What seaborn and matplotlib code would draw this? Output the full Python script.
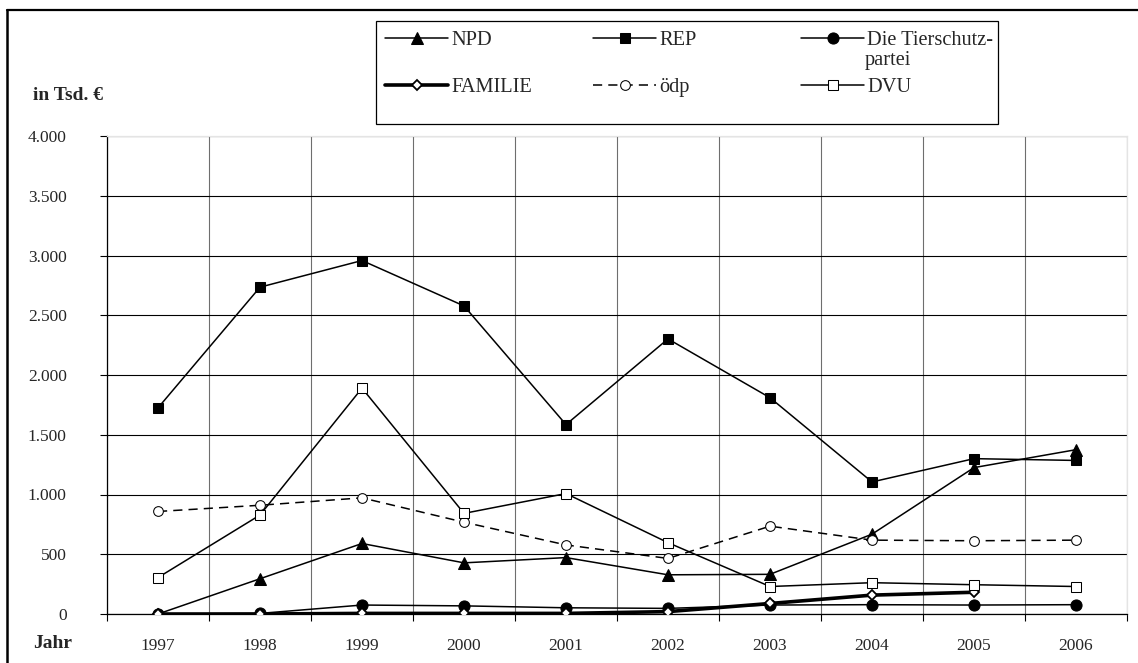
import numpy as np
import pandas as pd
import matplotlib
matplotlib.use("Agg")
import matplotlib.pyplot as plt
import seaborn as sns
from matplotlib.lines import Line2D
from matplotlib.patches import Rectangle
from matplotlib.ticker import FuncFormatter, MultipleLocator, FixedLocator

# Data (in Tsd. EUR)
years = [1997, 1998, 1999, 2000, 2001, 2002, 2003, 2004, 2005, 2006]
npd = [0, 295, 590, 428, 472, 328, 332, 668, 1225, 1375]
rep = [1725, 2735, 2958, 2578, 1585, 2302, 1810, 1105, 1300, 1285]
tierschutz = [0, 5, 75, 68, 52, 47, 75, 78, 75, 78]
familie = [0, 0, 5, 5, 5, 20, 88, 158, 182, np.nan]
oedp = [858, 910, 972, 768, 578, 465, 735, 618, 613, 618]
dvu = [305, 828, 1890, 842, 1008, 597, 230, 262, 245, 230]

df = pd.DataFrame({"Jahr": years, "NPD": npd, "REP": rep,
                   "Die Tierschutz-": tierschutz, "FAMILIE": familie,
                   "ödp": oedp, "DVU": dvu})

sns.set_theme(style="white")
plt.rcParams["font.family"] = ["Liberation Serif", "DejaVu Serif"]
plt.rcParams["font.size"] = 12.5

W, H = 1138, 663
fig = plt.figure(figsize=(W / 100, H / 100), dpi=100)
ax = fig.add_axes([107 / W, 1 - 614 / H, (1127 - 107) / W, (614 - 136) / H])

# style per series
styles = {
    "NPD": dict(marker="^", markersize=8, markerfacecolor="black", lw=1.1),
    "REP": dict(marker="s", markersize=7, markerfacecolor="black", lw=1.1),
    "Die Tierschutz-": dict(marker="o", markersize=8, markerfacecolor="black", lw=1.1),
    "FAMILIE": dict(marker="D", markersize=5.5, markerfacecolor="white", lw=2.6,
                    markeredgewidth=1.3),
    "ödp": dict(marker="o", markersize=7, markerfacecolor="white", lw=1.1,
                linestyle=(0, (6, 4))),
    "DVU": dict(marker="s", markersize=7, markerfacecolor="white", lw=1.1),
}

for name, kw in styles.items():
    sns.lineplot(data=df, x="Jahr", y=name, ax=ax, color="black",
                 markeredgecolor="black", label=name, legend=False, zorder=3, **kw)

ax.set_xlim(1996.5, 2006.5)
ax.set_ylim(0, 4000)
ax.set_xlabel("")
ax.set_ylabel("")

# axes formatting
ax.yaxis.set_major_locator(MultipleLocator(500))
ax.yaxis.set_major_formatter(FuncFormatter(lambda v, p: f"{int(v):,}".replace(",", ".")))
ax.xaxis.set_major_locator(FixedLocator(years))
ax.xaxis.set_major_formatter(FuncFormatter(lambda v, p: f"{int(round(v))}"))
ax.xaxis.set_minor_locator(MultipleLocator(1, offset=0.5))

ax.tick_params(axis="y", which="major", direction="out", length=5, width=0.8,
               color="black", pad=24, left=True, labelsize=12.5)
ax.tick_params(axis="x", which="major", length=0, pad=17, labelsize=12.5)
ax.tick_params(axis="x", which="minor", direction="out", length=5, width=0.8,
               color="black", bottom=True)

ax.yaxis.grid(True, color="black", lw=0.8)
ax.xaxis.grid(True, which="minor", color="#6e6e6e", lw=0.8)
ax.xaxis.grid(False, which="major")
ax.get_ygridlines()[-1].set_visible(False)
ax.set_axisbelow(True)

for side in ["left", "bottom"]:
    ax.spines[side].set_color("black")
    ax.spines[side].set_linewidth(0.9)
for side in ["top", "right"]:
    ax.spines[side].set_color("#e4e4e4")
    ax.spines[side].set_linewidth(0.9)

# legend: three columns with fixed column positions inside one box
handles, labels = ax.get_legend_handles_labels()
lookup = dict(zip(labels, handles))
columns = [["NPD", "FAMILIE"], ["REP", "ödp"], ["Die Tierschutz-", "DVU"]]
col_x = [385, 593, 801]
for cx, col in zip(col_x, columns):
    fig.legend([lookup[c] for c in col], col, loc="upper left",
               bbox_to_anchor=(cx / W, 1 - 31 / H), frameon=False,
               borderpad=0, borderaxespad=0, handlelength=3.1,
               handletextpad=0.15, labelspacing=1.35, fontsize=14.7)
fig.text(865 / W, 1 - 61 / H, "partei", ha="left", va="center", fontsize=14.7)
fig.add_artist(Rectangle((376 / W, 1 - 124 / H), (998 - 376) / W, (124 - 21) / H,
                         transform=fig.transFigure, fill=False, ec="black", lw=0.9))

# outer frame and labels
fig.add_artist(Line2D([7 / W, 7 / W], [0, 1 - 10 / H], transform=fig.transFigure,
                      color="black", lw=1.8))
fig.add_artist(Line2D([7 / W, 1], [1 - 10 / H, 1 - 10 / H], transform=fig.transFigure,
                      color="black", lw=1.6))
fig.text(33 / W, 1 - 96 / H, "in Tsd. €", ha="left", va="center",
         fontsize=14, fontweight="bold")
fig.text(53 / W, 1 - 643 / H, "Jahr", ha="center", va="center",
         fontsize=14, fontweight="bold")

fig.savefig("out.png", dpi=100)
